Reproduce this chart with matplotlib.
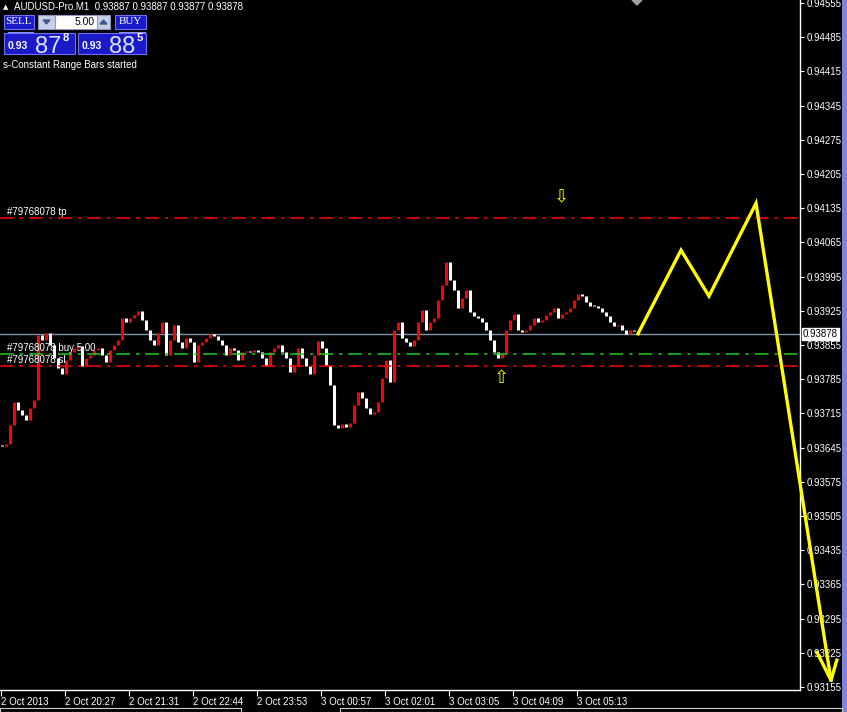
import numpy as np
import matplotlib
matplotlib.use("Agg")
import matplotlib.pyplot as plt
from matplotlib.patches import Rectangle, Polygon

plt.rcParams['font.family'] = ['Liberation Sans', 'DejaVu Sans']

# --- chart data ---
symbol = "AUDUSD-Pro.M1"
last_ohlc = ["0.93887", "0.93887", "0.93877", "0.93878"]

closes = [
    0.93648, 0.93652, 0.93691, 0.93738, 0.93722, 0.93712, 0.93701, 0.93726, 0.93742, 0.93875,
    0.93865, 0.93879, 0.93855, 0.93828, 0.93808, 0.93796, 0.93824, 0.93840, 0.93849, 0.93853,
    0.93812, 0.93828, 0.93834, 0.93845, 0.93849, 0.93834, 0.93820, 0.93845, 0.93855, 0.93865,
    0.93910, 0.93902, 0.93910, 0.93916, 0.93924, 0.93906, 0.93886, 0.93865, 0.93855, 0.93879,
    0.93902, 0.93834, 0.93865, 0.93896, 0.93861, 0.93849, 0.93869, 0.93861, 0.93820, 0.93855,
    0.93861, 0.93869, 0.93877, 0.93873, 0.93865, 0.93855, 0.93834, 0.93849, 0.93845, 0.93824,
    0.93840, 0.93843, 0.93840, 0.93845, 0.93840, 0.93828, 0.93812, 0.93840, 0.93849, 0.93855,
    0.93840, 0.93828, 0.93800, 0.93814, 0.93849, 0.93828, 0.93812, 0.93796, 0.93834, 0.93863,
    0.93849, 0.93814, 0.93773, 0.93691, 0.93685, 0.93693, 0.93687, 0.93695, 0.93732, 0.93759,
    0.93746, 0.93726, 0.93714, 0.93718, 0.93738, 0.93787, 0.93824, 0.93779, 0.93886, 0.93902,
    0.93869, 0.93861, 0.93853, 0.93865, 0.93902, 0.93926, 0.93886, 0.93902, 0.93910, 0.93947,
    0.93978, 0.94025, 0.93988, 0.93967, 0.93931, 0.93951, 0.93967, 0.93922, 0.93914, 0.93910,
    0.93902, 0.93886, 0.93865, 0.93840, 0.93828, 0.93836, 0.93886, 0.93906, 0.93918, 0.93886,
    0.93881, 0.93886, 0.93896, 0.93910, 0.93902, 0.93906, 0.93916, 0.93922, 0.93931, 0.93910,
    0.93918, 0.93922, 0.93931, 0.93947, 0.93959, 0.93955, 0.93943, 0.93935, 0.93935, 0.93931,
    0.93922, 0.93914, 0.93902, 0.93894, 0.93896, 0.93886, 0.93877, 0.93886, 0.93884, 0.93878,
]

time_labels = ["2 Oct 2013", "2 Oct 20:27", "2 Oct 21:31", "2 Oct 22:44", "2 Oct 23:53",
               "3 Oct 00:57", "3 Oct 02:01", "3 Oct 03:05", "3 Oct 04:09", "3 Oct 05:13"]
bars_per_label = 16

price_ticks = [0.94555, 0.94485, 0.94415, 0.94345, 0.94275, 0.94205, 0.94135, 0.94065,
               0.93995, 0.93925, 0.93855, 0.93785, 0.93715, 0.93645, 0.93575, 0.93505,
               0.93435, 0.93365, 0.93295, 0.93225, 0.93155]

bid = 0.93878
tp_price = 0.94115
entry_price = 0.93837
sl_price = 0.93812
order_id = "#79768078"

# hand-drawn forecast line (bar index, price)
forecast_bar = [159, 169.75, 176.75, 188.5, 207.25]
forecast_price = [0.93878, 0.94049, 0.93955, 0.94145, 0.93169]
head_bar = [203.75, 207.25, 208.7]
head_price = [0.93226, 0.93169, 0.93210]

# signal arrows
arrow_down = (139.75, 0.94158)
arrow_up = (124.75, 0.93787)

# --- figure ---
W, H = 847, 712
fig = plt.figure(figsize=(W / 100, H / 100), dpi=100, facecolor='black')
ax = fig.add_axes([0, 22 / H, 800 / W, 690 / H])
ax.set_facecolor('black')
ax.set_xlim(-0.5, 199.5)
ax.set_ylim(0.93149, 0.94561)

# candles: open = previous close
c = np.array(closes)
o = np.r_[c[0], c[:-1]]
lo = np.minimum(o, c)
hi = np.maximum(np.maximum(o, c), lo + 0.00002)
cols = np.where(c > o, '#ff0000', '#ffffff')
ax.vlines(np.arange(len(c)), lo, hi, colors=cols, linewidth=2.2)

# order / price lines
ax.axhline(bid, color='#8093a8', lw=1.0, zorder=1)
ax.axhline(tp_price, color='#ff0000', lw=1.1, dashes=(9, 4, 2, 4))
ax.axhline(entry_price, color='#22cc22', lw=1.1, dashes=(9, 4, 2, 4))
ax.axhline(sl_price, color='#ff0000', lw=1.1, dashes=(9, 4, 2, 4))

ytr = ax.get_yaxis_transform()
for txt, p in [(order_id + " tp", tp_price), (order_id + " buy 5.00", entry_price),
               (order_id + " sl", sl_price)]:
    ax.annotate(txt, xy=(0.009, p), xycoords=ytr, xytext=(0, 1), textcoords='offset pixels',
                color='white', fontsize=7, va='bottom', ha='left')

# arrows
ax.text(*arrow_down, "\u21e9", color='#ffff00', fontsize=13, ha='center', va='center',
        family='DejaVu Sans')
ax.text(*arrow_up, "\u21e7", color='#ffff00', fontsize=13, ha='center', va='center',
        family='DejaVu Sans')

# forecast line
ax.plot(forecast_bar, forecast_price, color='#ffff00', lw=2.4, clip_on=False, zorder=6,
        solid_joinstyle='miter')
ax.plot(head_bar, head_price, color='#ffff00', lw=2.4, clip_on=False, zorder=6)

# axes styling
for s in ['left', 'top']:
    ax.spines[s].set_visible(False)
for s in ['right', 'bottom']:
    ax.spines[s].set_color('white')
    ax.spines[s].set_linewidth(1)

ax.yaxis.tick_right()
ax.set_yticks(price_ticks)
ax.set_yticklabels([f"{p:.5f}" for p in price_ticks])
ax.tick_params(axis='y', colors='white', labelsize=7, length=3, pad=2, direction='out')

xt = np.arange(len(time_labels)) * bars_per_label - 0.25
ax.set_xticks(xt)
ax.set_xticklabels(time_labels)
ax.tick_params(axis='x', colors='white', labelsize=7, length=4, pad=1, direction='out')
for lab in ax.get_xticklabels():
    lab.set_ha('left')

# bid label on price scale
ax.text(1.0 + 3 / 800, bid, f"{bid:.5f}", transform=ytr, ha='left', va='center',
        fontsize=7, color='black', clip_on=False, zorder=7,
        bbox=dict(facecolor='white', edgecolor='white', pad=0.8))

# --- overlay in pixel coords: header, one-click panel, frame bits ---
ov = fig.add_axes([0, 0, 1, 1], zorder=10)
ov.set_xlim(0, W)
ov.set_ylim(H, 0)
ov.axis('off')
ov.patch.set_alpha(0)

ov.text(3, 7, "\u25b2", color='white', fontsize=5, va='center', family='DejaVu Sans')
ov.text(14, 7, symbol + "  " + " ".join(last_ohlc), color='white', fontsize=7, va='center')

blue = '#1a1ac8'
edge = '#7070f0'
ov.add_patch(Rectangle((4, 15), 30, 14, facecolor=blue, edgecolor=edge, lw=0.8))
ov.text(19, 22, "SELL", color='white', fontsize=8, ha='center', va='center',
        family='Liberation Serif')
ov.add_patch(Rectangle((38, 15), 72, 14, facecolor='#c8d0e8', edgecolor='#9098c0', lw=0.8))
ov.add_patch(Rectangle((55, 15), 42, 14, facecolor='white', edgecolor='#9098c0', lw=0.8))
ov.add_patch(Polygon([(43, 20), (50, 20), (46.5, 24)], closed=True, color='#405890'))
ov.add_patch(Polygon([(100, 24), (107, 24), (103.5, 20)], closed=True, color='#405890'))
ov.text(95, 22, "5.00", color='black', fontsize=7.5, ha='right', va='center')
ov.add_patch(Rectangle((115, 15), 31, 14, facecolor=blue, edgecolor=edge, lw=0.8))
ov.text(130.5, 22, "BUY", color='white', fontsize=8, ha='center', va='center',
        family='Liberation Serif')
ov.plot([8, 33], [31.5, 31.5], color='#9090ff', lw=0.8)
ov.plot([119, 145], [31.5, 31.5], color='#9090ff', lw=0.8)

ov.add_patch(Rectangle((4, 33), 71, 21, facecolor=blue, edgecolor=edge, lw=0.8))
ov.add_patch(Rectangle((78, 33), 68, 21, facecolor=blue, edgecolor=edge, lw=0.8))
for x0, big, small in [(8, "87", "8"), (82, "88", "5")]:
    ov.text(x0, 46, "0.93", color='white', fontsize=7.5, weight='bold', va='center')
    ov.text(x0 + 27, 53, big, color='#dde4ff', fontsize=17, va='baseline')
    ov.text(x0 + 55, 38, small, color='white', fontsize=8, weight='bold', va='center')

ov.text(3, 65, "s-Constant Range Bars started", color='white', fontsize=7, va='center')

# chart-shift marker, window frame
ov.add_patch(Polygon([(632, 0), (642, 0), (637, 5)], closed=True, color='#a0a0a0'))
ov.add_patch(Rectangle((842, 0), 5, H, facecolor='#8282dc', edgecolor='none'))
ov.add_patch(Rectangle((0, 708), 241, 4, facecolor='none', edgecolor='#d4d0c8', lw=0.8))
ov.add_patch(Rectangle((340, 708), 502, 4, facecolor='none', edgecolor='#d4d0c8', lw=0.8))

fig.savefig("out.png", dpi=100, facecolor='black')
